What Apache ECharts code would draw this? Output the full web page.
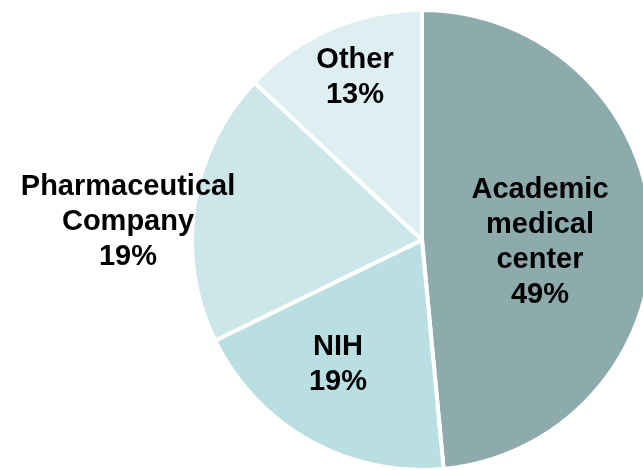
<!DOCTYPE html>
<html>
<head>
<meta charset="utf-8">
<script src="https://cdn.jsdelivr.net/npm/echarts@6/dist/echarts.min.js"></script>
<style>
  html, body { margin: 0; padding: 0; background: #ffffff; }
  #chart { width: 643px; height: 470px; }
</style>
</head>
<body>
<div id="chart"></div>
<script>
// ---- data ----
const categories = ['Academic\nmedical\ncenter', 'NIH', 'Pharmaceutical\nCompany', 'Other'];
const shares = [48.5, 19.3, 19.2, 13.0];

// ---- styling (kept separate from data) ----
const sliceColors = ['#8DABAD', '#B9DFE3', '#CCE6EA', '#DDEFF0'];
const labelCenters = [[540, 242], [338, 364], [128, 222], [355, 77]];

const chart = echarts.init(document.getElementById('chart'), null, { renderer: 'canvas' });

chart.setOption({
  animation: false,
  backgroundColor: '#ffffff',
  series: [{
    type: 'pie',
    center: [422, 240],
    radius: [0, 230],
    startAngle: 90,
    clockwise: true,
    selectedMode: false,
    percentPrecision: 0,
    emphasis: { disabled: true },
    itemStyle: { borderColor: '#ffffff', borderWidth: 4 },
    label: {
      show: true,
      position: 'inside',
      formatter: '{b}\n{d}%',
      color: '#000000',
      fontFamily: 'Liberation Sans, Arial, sans-serif',
      fontWeight: 'bold',
      fontSize: 29,
      lineHeight: 35,
      align: 'center'
    },
    labelLine: { show: false },
    labelLayout: function (params) {
      const p = labelCenters[params.dataIndex];
      return { x: p[0], y: p[1], align: 'center', verticalAlign: 'middle' };
    },
    data: categories.map((name, i) => ({
      name: name,
      value: shares[i],
      itemStyle: { color: sliceColors[i] }
    }))
  }]
});
</script>
</body>
</html>
